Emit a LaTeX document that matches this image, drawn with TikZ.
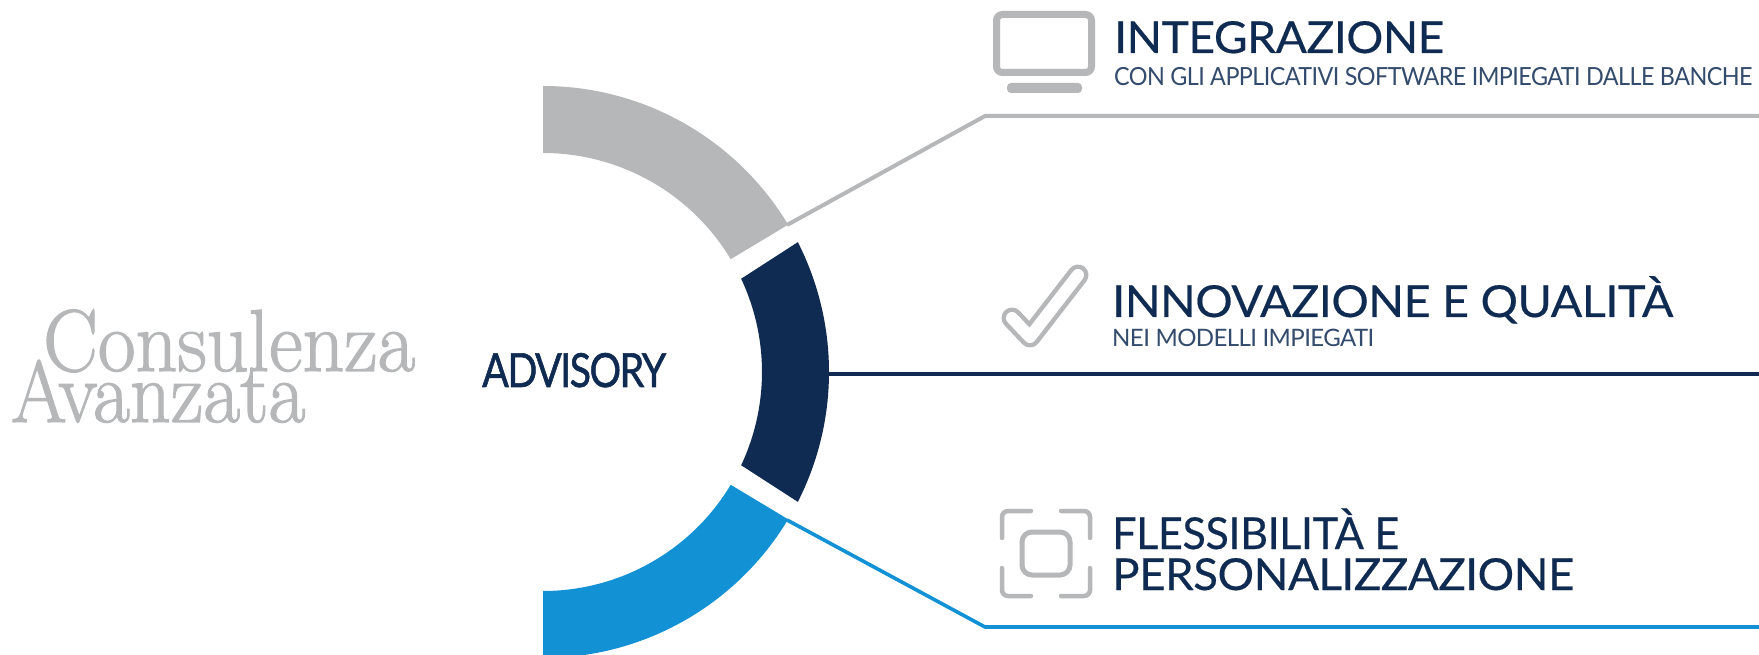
\documentclass[tikz,border=0pt]{standalone}
\usepackage{graphicx}
\usepackage{fontspec}
\usetikzlibrary{calc}
\setmainfont{Lato}
\newfontfamily\didone[FakeBold=1.4]{Latin Modern Roman}
\newfontfamily\titlefont[FakeBold=0.4,LetterSpace=-1]{Lato}
\newfontfamily\subfont[LetterSpace=-2.5]{Lato}
\newfontfamily\advfont[FakeBold=1.2,LetterSpace=-4]{Lato}
\definecolor{navy}{HTML}{0F2B52}
\definecolor{midgray}{HTML}{B5B7B9}
\definecolor{skyblue}{HTML}{1292D4}
\newcommand{\fitlbl}[3]{\resizebox{#1pt}{\height}{\fontsize{#2}{#2}\selectfont #3}}
\tikzset{
  lbl/.style={inner sep=0pt,anchor=base west,text=navy},
  sublbl/.style={inner sep=0pt,anchor=base west,text=navy!85},
  serif/.style={inner sep=0pt,anchor=base west,text=midgray},
  iconline/.style={draw=midgray,line width=#1,rounded corners=6pt,line cap=round},
  conn/.style={line width=4pt,line join=round}
}
\begin{document}
\begin{tikzpicture}[x=1pt,y=1pt]
\useasboundingbox (0,0) rectangle (1759,654);
\clip (0,0) rectangle (1759,654);
\fill[white] (0,0) rectangle (1759,654);
\coordinate (c) at (543,282);
% ring segments
\fill[midgray] (c)++(90:286) arc[start angle=90,end angle=31,radius=286] -- ($(c)+(31:219)$) arc[start angle=31,end angle=90,radius=219] -- cycle;
\fill[navy] (c)++(27:286) arc[start angle=27,end angle=-27,radius=286] -- ($(c)+(-25.2:219)$) arc[start angle=-25.2,end angle=25.2,radius=219] -- cycle;
\fill[skyblue] (c)++(-90:286) arc[start angle=-90,end angle=-31,radius=286] -- ($(c)+(-31:219)$) arc[start angle=-31,end angle=-90,radius=219] -- cycle;
% connectors
\coordinate (g0) at (787,429);
\coordinate (g1) at (985,538);
\coordinate (g2) at (1759,538);
\coordinate (n0) at (829,280);
\coordinate (n1) at (1759,280);
\coordinate (b0) at (787,134);
\coordinate (b1) at (985,27);
\coordinate (b2) at (1759,27);
\draw[conn,midgray] (g0) -- (g1) -- (g2);
\draw[conn,navy] (n0) -- (n1);
\draw[conn,skyblue,line width=3.6pt] (b0) -- (b1) -- (b2);
% left labels
\node[serif] (avanzata) at (11,232) {\fitlbl{294}{88pt}{\didone Avanzata}};
\node[serif] (consulenza) at (43,283) {\fitlbl{372}{88pt}{\didone Consulenza}};
\node[lbl] (advisory) at (482,267) {\fitlbl{184}{47pt}{\advfont ADVISORY}};
% right labels
\node[lbl] (t1) at (1114,601) {\fitlbl{330}{44pt}{\titlefont INTEGRAZIONE}};
\node[sublbl] (s1) at (1114,568) {\fitlbl{638}{25pt}{\subfont CON GLI APPLICATIVI SOFTWARE IMPIEGATI DALLE BANCHE}};
\node[lbl] (t2) at (1112,337) {\fitlbl{561}{44pt}{\titlefont INNOVAZIONE E QUALITÀ}};
\node[sublbl] (s2) at (1112,307) {\fitlbl{262}{24pt}{\subfont NEI MODELLI IMPIEGATI}};
\node[lbl] (t3) at (1112,105) {\fitlbl{287}{44pt}{\titlefont FLESSIBILITÀ E}};
\node[lbl] (t4) at (1112,64) {\fitlbl{462}{44pt}{\titlefont PERSONALIZZAZIONE}};
% monitor icon
\draw[iconline=7pt] (996.5,639.5) rectangle (1091.5,581.5);
\fill[midgray,rounded corners=4pt] (1007,571) rectangle (1082,561);
% check icon
\draw[midgray,line width=21pt,line cap=round,line join=round] (1012,336) -- (1030,317) -- (1078,379);
\draw[white,line width=12pt,line cap=round,line join=round] (1012,336) -- (1030,317) -- (1078,379);
% flexibility icon
\draw[iconline=5pt,rounded corners=10pt] (1022,122) rectangle (1070,79);
\draw[iconline=4.5pt] (1002,116) -- (1002,143) -- (1031,143);
\draw[iconline=4.5pt] (1061,143) -- (1090,143) -- (1090,116);
\draw[iconline=4.5pt] (1002,86) -- (1002,58) -- (1031,58);
\draw[iconline=4.5pt] (1061,58) -- (1090,58) -- (1090,86);
\end{tikzpicture}
\end{document}
